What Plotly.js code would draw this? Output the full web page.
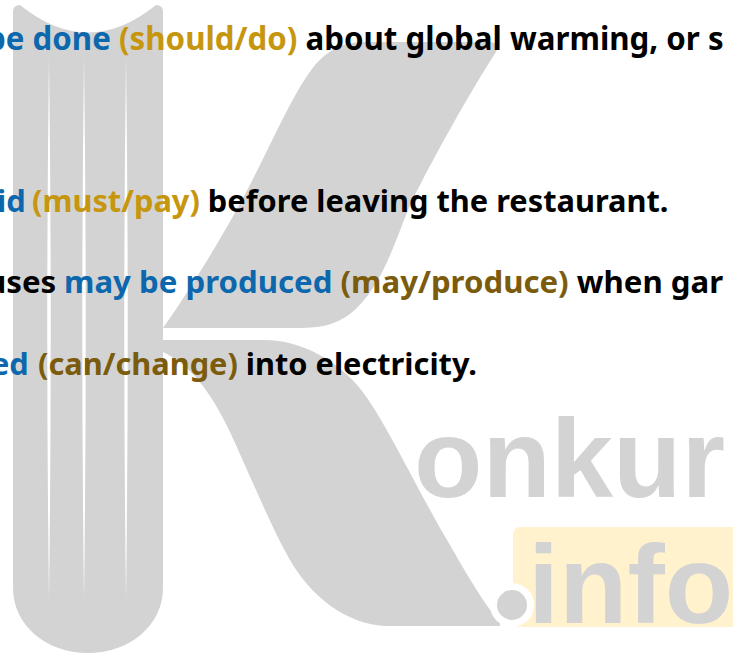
<!DOCTYPE html>
<html>
<head>
<meta charset="utf-8">
<script src="https://cdn.plot.ly/plotly-3.0.1.min.js"></script>
<style>
  html, body { margin: 0; padding: 0; background: #ffffff; }
  #chart { width: 733px; height: 654px; }
</style>
</head>
<body>
<div id="chart"></div>
<script>
// ---- content (text segments and their roles) ----
const line1Lead = ["be done"];
const line1LeadRoles = ["answer"];
const line1Rest = ["(should/do)", "about global warming, or s"];
const line1RestRoles = ["verb1", "plain"];

const line2Lead = ["id"];
const line2LeadRoles = ["answer"];
const line2Rest = ["(must/pay)", "before leaving the restaurant."];
const line2RestRoles = ["verb1", "plain"];

const line3Lead = ["uses"];
const line3LeadRoles = ["plain"];
const line3Rest = ["may be produced", "(may/produce)", "when gar"];
const line3RestRoles = ["answer", "verb2", "plain"];

const line4Lead = ["ed"];
const line4LeadRoles = ["answer"];
const line4Rest = ["(can/change)", "into electricity."];
const line4RestRoles = ["verb2", "plain"];

const brandTop = "onkur";
const brandBottom = "info";

// ---- styles ----
const roleColor = {
  answer: "#0d67ad",
  verb1: "#c6960e",
  verb2: "#7b5b0c",
  plain: "#000000"
};
const GREY = "#d3d3d3";
const BOX = "#fff2cc";

function spans(segs, roles) {
  return segs.map((s, i) => '<span style="color:' + roleColor[roles[i]] + '">' + s + '</span>').join(' ');
}

// line layout: lead ends at leadRight, rest spans restLeft..restRight, baseline y
const lines = [
  { lead: [line1Lead, line1LeadRoles], rest: [line1Rest, line1RestRoles], leadRight: 111, restLeft: 119, restRight: 724, base: 50 },
  { lead: [line2Lead, line2LeadRoles], rest: [line2Rest, line2RestRoles], leadRight: 26, restLeft: 32, restRight: 669, base: 212 },
  { lead: [line3Lead, line3LeadRoles], rest: [line3Rest, line3RestRoles], leadRight: 56, restLeft: 64, restRight: 724, base: 293 },
  { lead: [line4Lead, line4LeadRoles], rest: [line4Rest, line4RestRoles], leadRight: 29, restLeft: 38, restRight: 477, base: 375 }
];

function textFont(size) {
  return { family: "Noto Sans, sans-serif", size: size, weight: 700, color: "#000" };
}

function textAnnotations(sizes) {
  const out = [];
  lines.forEach((L, i) => {
    const fs = sizes[i];
    const yc = L.base - 0.388 * fs; // baseline -> box centre for Noto Sans
    out.push({
      xref: "x", yref: "y", x: L.leadRight, y: yc,
      xanchor: "right", yanchor: "middle", showarrow: false,
      text: spans(L.lead[0], L.lead[1]), font: textFont(fs), borderpad: 0, borderwidth: 0
    });
    out.push({
      xref: "x", yref: "y", x: L.restLeft, y: yc,
      xanchor: "left", yanchor: "middle", showarrow: false,
      text: spans(L.rest[0], L.rest[1]), font: textFont(fs), borderpad: 0, borderwidth: 0
    });
  });
  return out;
}

const BFS = 112;
const brandFont = { family: "Liberation Sans, Arial, sans-serif", size: BFS, weight: 700, color: GREY };
const brandOffset = 0.3465 * BFS;
const brandAnnotations = [
  { xref: "x", yref: "y", x: 414, y: 497 - brandOffset, xanchor: "left", yanchor: "middle",
    showarrow: false, text: brandTop, font: brandFont, borderpad: 0, borderwidth: 0 },
  { xref: "x", yref: "y", x: 528, y: 623 - brandOffset, xanchor: "left", yanchor: "middle",
    showarrow: false, text: brandBottom, font: brandFont, borderpad: 0, borderwidth: 0 }
];

// ---- watermark shapes ----
function stripe(x) {
  return "M" + x + ",55 Q" + (x + 3.5) + ",330 " + x + ",600 Q" + (x - 3.5) + ",330 " + x + ",55 Z";
}
const shapes = [
  { type: "path", layer: "below", line: { width: 0 }, fillcolor: BOX,
    path: "M521,527 L745,527 L745,627 L521,627 Q513,627 513,619 L513,535 Q513,527 521,527 Z" },
  { type: "path", layer: "below", line: { width: 0 }, fillcolor: GREY,
    path: "M13,12 Q13,5 20,5 Q88,60 156,5 Q163,5 163,12 L163,588 C163,625 130,653 88,653 C46,653 13,625 13,588 Z" },
  { type: "path", layer: "below", line: { width: 0 }, fillcolor: "#ffffff", path: stripe(49) },
  { type: "path", layer: "below", line: { width: 0 }, fillcolor: "#ffffff", path: stripe(84) },
  { type: "path", layer: "below", line: { width: 0 }, fillcolor: "#ffffff", path: stripe(126) },
  { type: "path", layer: "below", line: { width: 0 }, fillcolor: GREY,
    path: "M163,328 C190,290 230,225 255,175 C275,135 295,90 315,65 C330,48 345,42 365,42 L489,42 Q499,42 496,52 C470,92 432,160 410,205 C392,250 380,290 350,314 C335,325 320,328 300,328 Z" },
  { type: "path", layer: "below", line: { width: 0 }, fillcolor: GREY,
    path: "M163,340 L265,340 C300,340 340,360 365,395 C390,430 420,495 450,545 C470,580 485,605 500,622 L500,626 L385,626 C345,624 310,595 290,560 C270,525 250,475 230,432 C210,390 190,365 163,352 Z" },
  { type: "circle", layer: "below", line: { width: 0 }, fillcolor: "#ffffff", x0: 490, x1: 534, y0: 583, y1: 627 },
  { type: "circle", layer: "below", line: { width: 0 }, fillcolor: GREY, x0: 497, x1: 527, y0: 590, y1: 620 }
];

function makeLayout(sizes) {
  return {
    width: 733, height: 654,
    margin: { l: 0, r: 0, t: 0, b: 0, pad: 0 },
    paper_bgcolor: "#ffffff", plot_bgcolor: "#ffffff",
    showlegend: false,
    xaxis: { range: [0, 733], visible: false, fixedrange: true },
    yaxis: { range: [654, 0], visible: false, fixedrange: true },
    shapes: shapes,
    annotations: textAnnotations(sizes).concat(brandAnnotations)
  };
}

const baseSize = 30;
const data = [{ x: [], y: [], type: "scatter", mode: "markers", hoverinfo: "skip" }];
const config = { displayModeBar: false, staticPlot: true };

Plotly.newPlot("chart", data, makeLayout([baseSize, baseSize, baseSize, baseSize]), config).then(gd => {
  // fit each line's font size so the text spans the same width as in the reference
  const texts = gd.querySelectorAll("text.annotation-text");
  const sizes = lines.map((L, i) => {
    const el = texts[2 * i + 1];
    if (!el) return baseSize;
    const w = el.getBBox().width;
    if (!w) return baseSize;
    const s = baseSize * (L.restRight - L.restLeft) / w;
    return Math.max(26, Math.min(36, s));
  });
  return Plotly.react(gd, data, makeLayout(sizes), config);
});
</script>
</body>
</html>
